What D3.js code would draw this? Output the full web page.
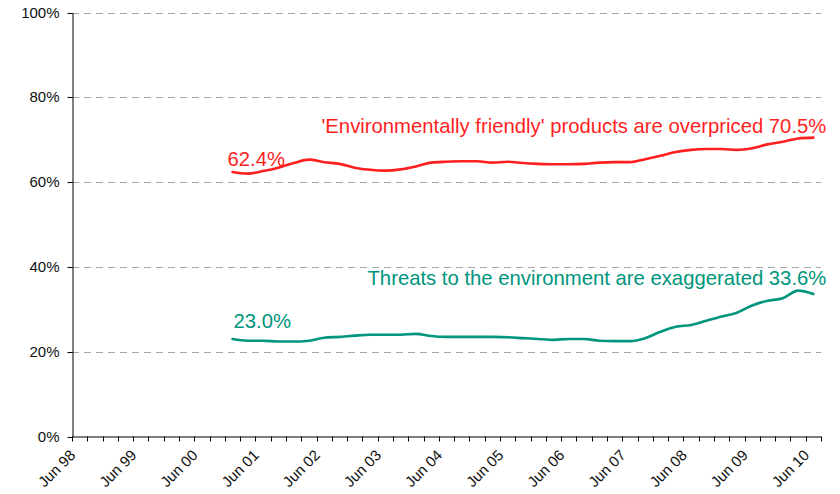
<!DOCTYPE html>
<html>
<head>
<meta charset="utf-8">
<script src="https://cdn.jsdelivr.net/npm/d3@7"></script>
<style>
  html, body { margin: 0; padding: 0; background: #fff; }
  svg { display: block; font-family: "Liberation Sans", Arial, sans-serif; }
</style>
</head>
<body>
<svg id="chart" width="840" height="494"></svg>
<script>
// Quarterly periods on the category axis
const categories = [
  "Jun 98","Sep 98","Dec 98","Mar 99","Jun 99","Sep 99","Dec 99","Mar 00",
  "Jun 00","Sep 00","Dec 00","Mar 01","Jun 01","Sep 01","Dec 01","Mar 02",
  "Jun 02","Sep 02","Dec 02","Mar 03","Jun 03","Sep 03","Dec 03","Mar 04",
  "Jun 04","Sep 04","Dec 04","Mar 05","Jun 05","Sep 05","Dec 05","Mar 06",
  "Jun 06","Sep 06","Dec 06","Mar 07","Jun 07","Sep 07","Dec 07","Mar 08",
  "Jun 08","Sep 08","Dec 08","Mar 09","Jun 09","Sep 09","Dec 09","Mar 10",
  "Jun 10"
];
const tickLabels = ["Jun 98","Jun 99","Jun 00","Jun 01","Jun 02","Jun 03","Jun 04",
  "Jun 05","Jun 06","Jun 07","Jun 08","Jun 09","Jun 10"];
const yTicks = [0, 20, 40, 60, 80, 100];

// Survey periods with results (Dec 00 to Jun 10)
const periods = categories.slice(categories.indexOf("Dec 00"));

// % agreeing: 'Environmentally friendly' products are overpriced
const overpriced = [62.4, 62.0, 62.6, 63.4, 64.5, 65.3, 64.7, 64.3, 63.4, 62.9,
  62.7, 63.0, 63.7, 64.6, 64.8, 64.9, 64.9, 64.6, 64.8, 64.5,
  64.3, 64.2, 64.2, 64.3, 64.6, 64.7, 64.7, 65.4, 66.2, 67.1,
  67.6, 67.8, 67.8, 67.6, 68.0, 68.9, 69.5, 70.3, 70.5];

// % agreeing: Threats to the environment are exaggerated
const exaggerated = [23.0, 22.6, 22.6, 22.4, 22.4, 22.6, 23.3, 23.5, 23.8, 24.0,
  24.0, 24.0, 24.2, 23.7, 23.5, 23.5, 23.5, 23.5, 23.4, 23.2,
  23.0, 22.8, 23.0, 23.0, 22.6, 22.5, 22.5, 23.2, 24.7, 25.9,
  26.3, 27.3, 28.3, 29.2, 30.9, 32.0, 32.6, 34.4, 33.6];

const seriesNames = ["'Environmentally friendly' products are overpriced",
                     "Threats to the environment are exaggerated"];
const seriesColors = ["#ff1f1f", "#00957d"];

const svg = d3.select("#chart");
const plotLeft = 72, plotRight = 821, plotTop = 12.5, plotBottom = 436.5;

const x = d3.scaleBand().domain(categories).range([plotLeft, plotRight]).padding(0);
const y = d3.scaleLinear().domain([0, 100]).range([plotBottom, plotTop]);
const cx = c => x(c) + x.bandwidth() / 2;

// Dashed horizontal gridlines
svg.append("g")
  .selectAll("line")
  .data(yTicks.filter(d => d > 0))
  .join("line")
  .attr("x1", plotLeft).attr("x2", plotRight)
  .attr("y1", d => Math.round(y(d)) + 0.5).attr("y2", d => Math.round(y(d)) + 0.5)
  .attr("stroke", "#a6a6a6")
  .attr("stroke-width", 1)
  .attr("stroke-dasharray", "7,5");

// Y axis
const yAxis = svg.append("g")
  .attr("transform", `translate(${plotLeft + 0.5},0)`)
  .call(d3.axisLeft(y).tickValues(yTicks).tickFormat(d => d + "%")
    .tickSize(5).tickSizeOuter(0).tickPadding(8));
yAxis.selectAll("text").attr("font-size", 15).attr("fill", "#111")
  .attr("font-family", "'Liberation Sans', Arial, sans-serif");
yAxis.selectAll("line, path").attr("stroke", "#000");
yAxis.selectAll(".tick").attr("transform", d => `translate(0,${Math.round(y(d)) + 0.5})`);

// X axis: baseline with tick marks at category boundaries
const xAxis = svg.append("g");
xAxis.append("line")
  .attr("x1", plotLeft).attr("x2", plotRight)
  .attr("y1", plotBottom + 0.5).attr("y2", plotBottom + 0.5)
  .attr("stroke", "#000");
const boundaries = categories.map(c => x(c)).concat([x.range()[1]]);
xAxis.selectAll("line.tk")
  .data(boundaries)
  .join("line")
  .attr("class", "tk")
  .attr("x1", d => Math.round(d) + 0.5).attr("x2", d => Math.round(d) + 0.5)
  .attr("y1", plotBottom).attr("y2", plotBottom + 5)
  .attr("stroke", "#000");
xAxis.selectAll("text")
  .data(tickLabels)
  .join("text")
  .attr("transform", d => `translate(${cx(d) - 7},${plotBottom + 16}) rotate(-45)`)
  .attr("text-anchor", "end")
  .attr("dy", "0.35em")
  .attr("font-size", 15)
  .attr("fill", "#111")
  .text(d => d);

// Series lines
const series = [overpriced, exaggerated];
const line = d3.line()
  .x((d, i) => cx(periods[i]))
  .y(d => y(d))
  .curve(d3.curveMonotoneX);

svg.append("g")
  .selectAll("path")
  .data(series)
  .join("path")
  .attr("d", d => line(d))
  .attr("fill", "none")
  .attr("stroke", (d, i) => seriesColors[i])
  .attr("stroke-width", 2.6)
  .attr("stroke-linejoin", "round")
  .attr("stroke-linecap", "round");

// Start and end labels
const fmt = v => v.toFixed(1) + "%";
const startOffset = [[-5, -6], [1, -11]];
const endOffset = [[13, -5], [13, -9]];
const labels = svg.append("g").attr("font-size", 20.3);
series.forEach((s, i) => {
  labels.append("text")
    .attr("x", cx(periods[0]) + startOffset[i][0])
    .attr("y", y(s[0]) + startOffset[i][1])
    .attr("fill", seriesColors[i])
    .text(fmt(s[0]));
  labels.append("text")
    .attr("x", cx(periods[periods.length - 1]) + endOffset[i][0])
    .attr("y", y(s[s.length - 1]) + endOffset[i][1])
    .attr("text-anchor", "end")
    .attr("fill", seriesColors[i])
    .text(seriesNames[i] + " " + fmt(s[s.length - 1]));
});
</script>
</body>
</html>
